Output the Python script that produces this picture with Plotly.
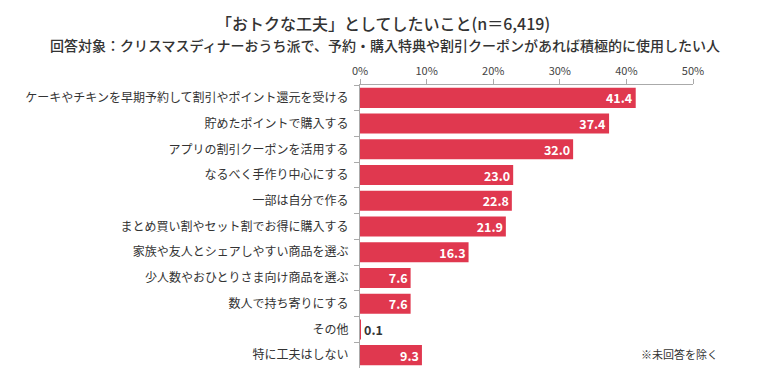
import plotly.graph_objects as go

categories = [
    "ケーキやチキンを早期予約して割引やポイント還元を受ける",
    "貯めたポイントで購入する",
    "アプリの割引クーポンを活用する",
    "なるべく手作り中心にする",
    "一部は自分で作る",
    "まとめ買い割やセット割でお得に購入する",
    "家族や友人とシェアしやすい商品を選ぶ",
    "少人数やおひとりさま向け商品を選ぶ",
    "数人で持ち寄りにする",
    "その他",
    "特に工夫はしない",
]
values = [41.4, 37.4, 32.0, 23.0, 22.8, 21.9, 16.3, 7.6, 7.6, 0.1, 9.3]
x_ticks = [0, 10, 20, 30, 40, 50]
x_tick_labels = ["0%", "10%", "20%", "30%", "40%", "50%"]

FONT = "Noto Sans CJK JP"
BAR = "#E0384F"
TXT = "#333333"

W, H = 763, 385
ML, MR, MT, MB = 360, 70, 85, 17

fig = go.Figure(go.Bar(
    y=categories, x=values, orientation="h",
    marker=dict(color=BAR, line=dict(width=0)),
    texttemplate="%{x:.1f}", textposition="auto", textangle=0,
    insidetextanchor="end", constraintext="none",
    insidetextfont=dict(color="white", size=12.5, family=FONT, weight="bold"),
    outsidetextfont=dict(color=TXT, size=12.5, family=FONT, weight="bold"),
    cliponaxis=False,
    hoverinfo="skip",
))

ph = H - MT - MB
pw = W - ML - MR
def py(pix):
    return (H - MB - pix) / ph
def px(pix):
    return (pix - ML) / pw

fig.update_layout(
    width=W, height=H,
    margin=dict(l=ML, r=MR, t=MT, b=MB, autoexpand=False),
    plot_bgcolor="white", paper_bgcolor="white",
    bargap=0.22,
    showlegend=False,
    font=dict(family=FONT, color=TXT, size=12),
    xaxis=dict(
        side="top", range=[0, 50], tickvals=x_ticks, ticktext=x_tick_labels,
        showgrid=False, zeroline=False, automargin=False,
        showline=True, linecolor="#AAAAAA", linewidth=1,
        ticks="outside", ticklen=5, tickcolor="#AAAAAA",
        tickfont=dict(size=11, color="#444444", family=FONT),
        fixedrange=True,
    ),
    yaxis=dict(
        type="category", autorange="reversed", automargin=False,
        showgrid=False, zeroline=False,
        showline=True, linecolor="#AAAAAA", linewidth=1,
        ticks="outside", ticklen=5, tickcolor="#AAAAAA", tickson="boundaries",
        tickfont=dict(size=12, color=TXT, family=FONT),
        ticklabelstandoff=8,
        fixedrange=True,
    ),
    annotations=[
        dict(text="「おトクな工夫」としてしたいこと(n＝6,419)", x=px(383), y=py(23),
             xref="paper", yref="paper", xanchor="center", yanchor="middle",
             showarrow=False, font=dict(size=16, color=TXT, family=FONT, weight=500)),
        dict(text="回答対象：クリスマスディナーおうち派で、予約・購入特典や割引クーポンがあれば積極的に使用したい人",
             x=px(385), y=py(45), xref="paper", yref="paper", xanchor="center", yanchor="middle",
             showarrow=False, font=dict(size=14, color=TXT, family=FONT, weight=500)),
        dict(text="※未回答を除く", x=px(720), y=py(354), xref="paper", yref="paper",
             xanchor="right", yanchor="middle", showarrow=False,
             font=dict(size=11, color=TXT, family=FONT)),
    ],
)

fig.write_html("out.html", config={"displayModeBar": False},
               post_script="document.body.style.margin='0';")
